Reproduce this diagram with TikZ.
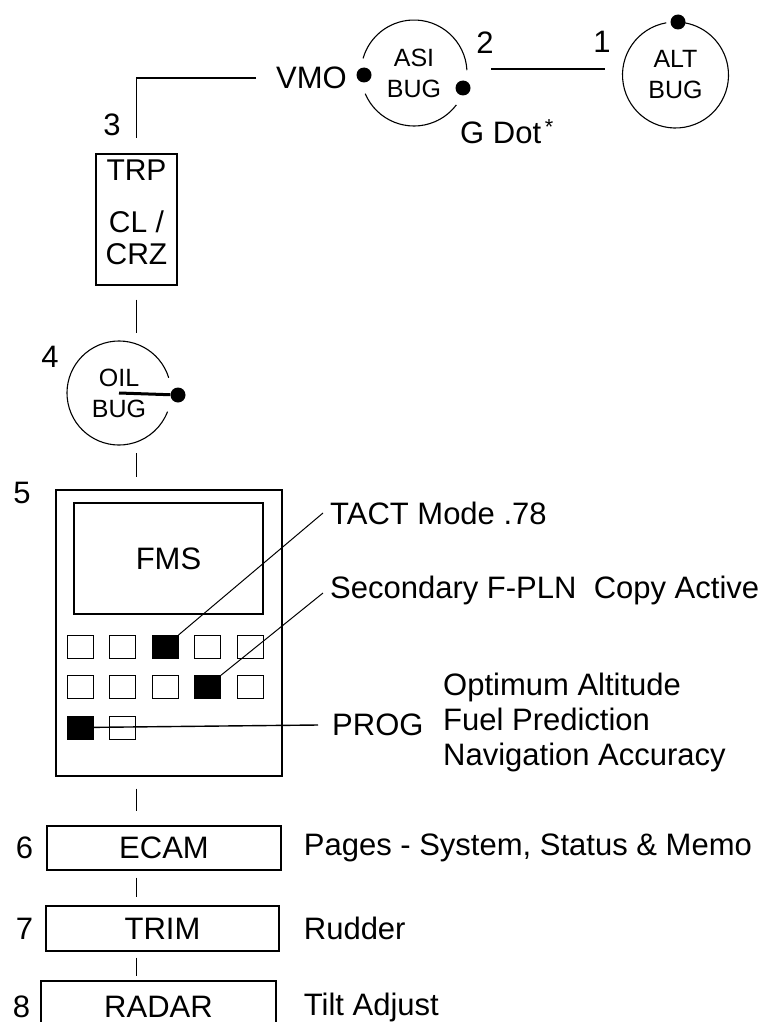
\documentclass[tikz,border=0pt]{standalone}
\usepackage{fontspec}
\setmainfont{Liberation Sans}
\usetikzlibrary{positioning,calc}
\tikzset{
lbl/.style={
inner sep=0pt,
font=\fontsize{31pt}{35pt}\selectfont
},
unit/.style={
draw,
line width=1.4pt,
inner sep=0pt,
align=center,
font=\fontsize{31pt}{35pt}\selectfont
},
gauge/.style={
circle,
inner sep=0pt,
outer sep=0pt,
minimum size=106pt,
align=center,
font=\fontsize{25pt}{31pt}\selectfont
},
bugdot/.style={
circle,
fill=black,
inner sep=0pt,
minimum size=15pt
},
key/.style={
draw,
line width=1pt,
minimum width=26pt,
minimum height=23pt,
inner sep=0pt
},
link/.style={
line width=1.4pt
},
rim/.style={
line width=1.1pt
},
leader/.style={
line width=1pt
}
}
\begin{document}
\begin{tikzpicture}[x=1pt,y=1pt]
\useasboundingbox (0,0) rectangle (766,-1022);
\clip (0,0) rectangle (766,-1022);

% bugs
\node[gauge](alt) at (675.5,-75){ALT\\BUG};
\node[gauge](asi) at (414,-73){ASI\\BUG};
\node[gauge,minimum size=104pt](oil) at (119,-393){OIL\\BUG};
\draw[rim](alt.100) arc[start angle=100,end angle=440,radius=53pt];
\draw[rim](asi.3) arc[start angle=3,end angle=164,radius=53pt];
\draw[rim](asi.203) arc[start angle=203,end angle=323,radius=53pt];
\draw[rim](oil.17) arc[start angle=17,end angle=339,radius=52pt];
\node[bugdot](altdot) at (678,-22){};
\node[bugdot](vmodot) at (364,-75){};
\node[bugdot](gdot) at (463,-88){};
\node[bugdot](oildot) at (178,-395){};
\draw[line width=3pt](oil.center)--(oildot);

\node[lbl](n1) at (602,-42){1};
\node[lbl](n2) at (485,-43){2};
\node[lbl](n3) at (112,-125){3};
\node[lbl](n4) at (50,-357){4};
\node[lbl](n5) at (22,-493){5};
\node[lbl,anchor=west](vmo) at (276,-78){VMO};
\node[lbl,anchor=west](gdotlbl) at (460,-132){G Dot\textsuperscript{\,*}};

% units
\node[unit,minimum width=81pt,minimum height=131pt,font=\fontsize{30pt}{27pt}\selectfont](trp) at (136.5,-219.5){TRP\\[25pt]CL /\\[5pt]CRZ\\[-12pt]\mbox{}};
\node[unit,minimum width=226pt,minimum height=286pt](fms) at (169,-633){};
\node[unit,minimum width=189pt,minimum height=111pt](screen) at (168.5,-558.5){FMS};
\node[unit,minimum width=234pt,minimum height=44pt](ecam) at (164,-848){ECAM};
\node[unit,minimum width=233pt,minimum height=45pt](trim) at (162.5,-928.5){TRIM};
\node[unit,minimum width=235pt,minimum height=52pt](radar) at (158.5,-1007){RADAR};

\node[lbl,left=13pt of ecam](n6){6};
\node[lbl,left=12pt of trim](n7){7};
\node[lbl,left=10pt of radar](n8){8};
\node[lbl,right=22pt of ecam](pages){Pages - System, Status \& Memo};
\node[lbl,right=24pt of trim](rudder){Rudder};
\node[lbl,right=27pt of radar](tilt){Tilt Adjust};

% fms keys
\foreach \r in {1,2}
\foreach \c in {1,...,5}
\node[key](b\r\c) at ({80+42.5*(\c-1)},{-647-40.25*(\r-1)}){};
\foreach \c in {1,2}
\node[key](b3\c) at ({80+42.5*(\c-1)},-727.5){};
\foreach \k in {b13,b24,b31}
\fill(\k.south west) rectangle (\k.north east);

\node[lbl,anchor=west](tact) at (330,-513){TACT Mode .78};
\node[lbl,anchor=west](sec) at (330,-590){Secondary F-PLN\ \ Copy Active};
\node[lbl,anchor=west](prog) at (332,-725){PROG};
\node[lbl,anchor=west,align=left](progdata) at (443,-722){Optimum Altitude\\Fuel Prediction\\Navigation Accuracy};

\draw[leader](b13.north east)--([xshift=-7pt]tact.west);
\draw[leader](b24.north east)--([xshift=-7pt,yshift=-3pt]sec.west);
\draw[link](b31.center)--([xshift=-14pt]prog.west);

% links
\draw[link]($(asi.east)+(24pt,4pt)$)--($(alt.west)+(-18pt,6pt)$);
\draw[link]([xshift=-20pt]vmo.west)-|([yshift=15pt]trp.north);
\foreach \a/\b/\s/\e in {trp/oil/14pt/8pt,oil/fms/8pt/12pt,fms/ecam/12pt/14pt,ecam/trim/7pt/8pt,trim/radar/6pt/4pt}
\draw[link,shorten <=\s,shorten >=\e](trp.south |- \a.south)--(trp.south |- \b.north);
\end{tikzpicture}
\end{document}
